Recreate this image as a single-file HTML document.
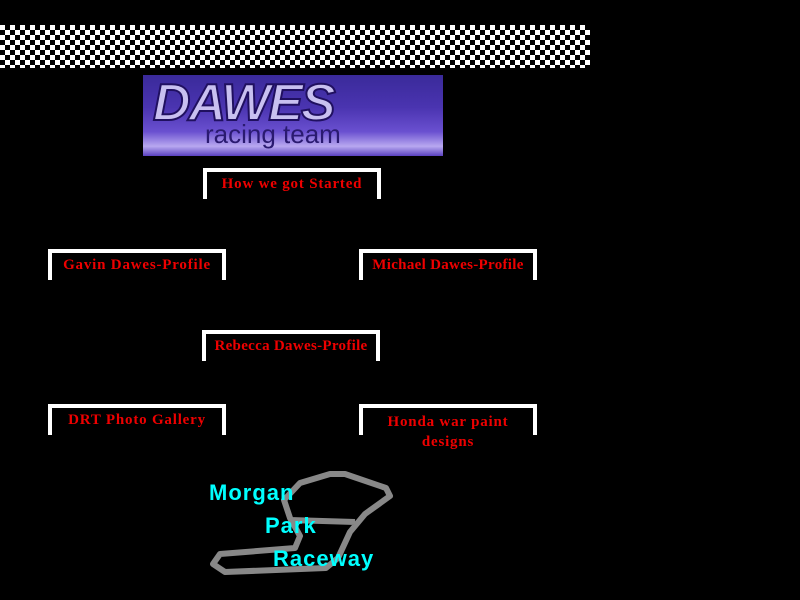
<!DOCTYPE html>
<html><head><style>
body{margin:0;width:800px;height:600px;background:#000;position:relative;overflow:hidden;font-family:"Liberation Serif",serif}
.chk{position:absolute;left:0;top:25px;width:590px;height:43px;background-color:#fff;background-image:linear-gradient(45deg,#000 25%,transparent 25%,transparent 75%,#000 75%),linear-gradient(45deg,#000 25%,transparent 25%,transparent 75%,#000 75%);background-size:10px 10px;background-position:0 0,5px 5px}
.logo{position:absolute;left:143px;top:75px;width:300px;height:81px;background:linear-gradient(#3a2a9a 0%,#4a34b0 40%,#6a50d0 70%,#b8a8f0 88%,#5a40c0 100%)}
.logo .d{position:absolute;left:10px;top:-2px;font:italic bold 52px "Liberation Sans",sans-serif;color:#c8c0f0;letter-spacing:-2px;-webkit-text-stroke:2px #201060}
.logo .r{position:absolute;left:62px;top:44px;font:26px "Liberation Sans",sans-serif;color:#2a1a70}
.b{position:absolute;width:170px;height:27px;border:4px solid #fff;border-bottom:none;color:#e00;font-weight:bold;font-size:15px;letter-spacing:0.8px;text-align:center;line-height:25px;white-space:nowrap}
.t{position:absolute;color:#0ff;font:bold 22px "Liberation Sans",sans-serif;letter-spacing:1px}
</style></head><body>
<div class="chk"></div>
<div class="logo"><div class="d">DAWES</div><div class="r">racing team</div></div>
<div class="b" style="left:203px;top:168px">How we got Started</div>
<div class="b" style="left:48px;top:249px">Gavin Dawes-Profile</div>
<div class="b" style="left:359px;top:249px;letter-spacing:0.3px">Michael Dawes-Profile</div>
<div class="b" style="left:202px;top:330px;letter-spacing:0.3px">Rebecca Dawes-Profile</div>
<div class="b" style="left:48px;top:404px">DRT Photo Gallery</div>
<div class="b" style="left:359px;top:404px;line-height:20px;padding-top:4px;height:23px">Honda war paint<br>designs</div>
<svg style="position:absolute;left:0;top:0" width="800" height="600"><path d="M330,474 L345,474 L386,488 L390,496 L365,514 L350,532 L338,558 L326,568 L225,572 L213,564 L220,554 L295,548 L300,536 L290,518 L284,500 L300,483 Z M290,520 L355,522" fill="none" stroke="#888" stroke-width="6" stroke-linejoin="round"/></svg>
<div class="t" style="left:209px;top:480px">Morgan</div>
<div class="t" style="left:265px;top:513px">Park</div>
<div class="t" style="left:273px;top:546px">Raceway</div>
</body></html>
